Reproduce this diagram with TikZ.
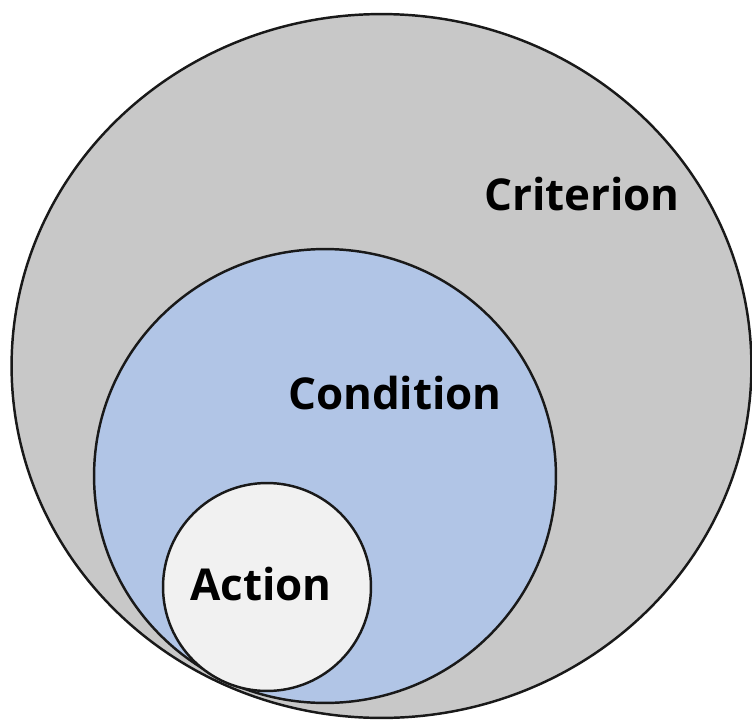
\documentclass[tikz,border=0pt]{standalone}
\usepackage{fontspec}
\setmainfont{Open Sans}
\usetikzlibrary{positioning}
\definecolor{critgray}{HTML}{C8C8C8}
\definecolor{condblue}{HTML}{B1C5E6}
\definecolor{actwhite}{HTML}{F1F1F1}

\begin{document}
\begin{tikzpicture}[x=0.02cm, y=-0.02cm,
    ring/.style={draw=black!90, line width=1.4pt},
    lbl/.style={anchor=base, inner sep=0pt, font=\fontsize{25}{30}\selectfont\bfseries}]
    \useasboundingbox (0,0) rectangle (752,721);
    % nested sets
    \draw[ring, fill=critgray] (381.5,366) ellipse [x radius=7.4cm, y radius=7.04cm];
    \draw[ring, fill=condblue] (325,476) ellipse [x radius=4.62cm, y radius=4.54cm];
    \draw[ring, fill=actwhite] (267,587) ellipse [x radius=2.08cm, y radius=2.08cm];
    \node[lbl] (crit) at (582,210) {Criterion};
    \node[lbl] (cond) at (395,409) {Condition};
    \node[lbl] (act) at (261,600) {Action};
\end{tikzpicture}
\end{document}
